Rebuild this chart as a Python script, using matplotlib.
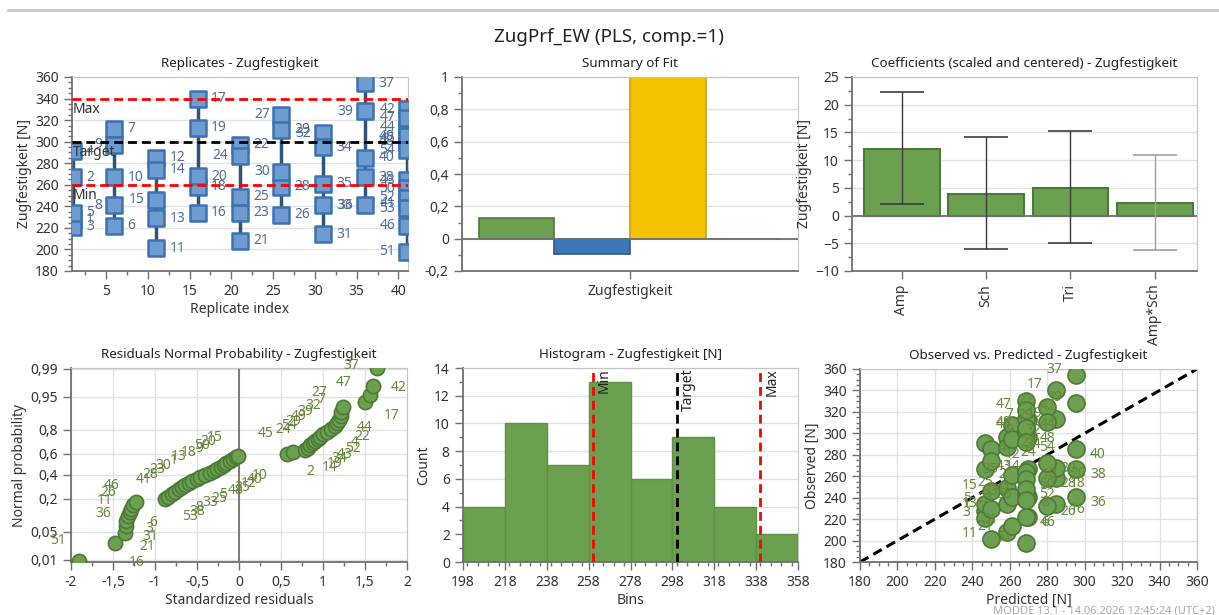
import numpy as np
import matplotlib
matplotlib.use("Agg")
import matplotlib.pyplot as plt
from matplotlib.ticker import MultipleLocator, FixedLocator, FuncFormatter
from matplotlib.lines import Line2D
from statistics import NormalDist

plt.rcParams['font.family'] = ['Noto Sans', 'DejaVu Sans']

# --- data ---
run_ids = list(range(1, 55))
run_group = [1]*5 + [6]*5 + [11]*5 + [16]*5 + [21]*5 + [26]*5 + [31]*5 + [36]*5 + [41]*14
observed = [228, 267, 221, 291, 234,
            222, 312, 241, 297, 267,
            201, 285, 229, 274, 246,
            234, 340, 258, 313, 268,
            208, 297, 234, 287, 249,
            232, 325, 258, 311, 272,
            214, 308, 241, 295, 261,
            241, 354, 267, 328, 285,
            243, 330, 264, 313, 303, 222, 322, 300, 305, 257, 198, 248, 238, 292]
group_index = [1, 6, 11, 16, 21, 26, 31, 36, 41]
group_pred = [246.5, 269.5, 250.0, 284.8, 258.4, 279.8, 261.0, 295.5, 268.4]
spec_min, spec_target, spec_max = 260, 300, 340

fit_labels = ["R2", "Q2", "Model validity", "Reproducibility"]
fit_values = [0.13, -0.095, 1.0, -0.005]

coef_names = ["Amp", "Sch", "Tri", "Amp*Sch"]
coef_values = [12.1, 3.9, 5.0, 2.2]
coef_low = [2.1, -6.0, -5.0, -6.3]
coef_high = [22.3, 14.1, 15.2, 11.0]

npp_resid = [-1.90, -1.48, -1.36, -1.35, -1.34, -1.32, -1.30, -1.28, -1.26, -1.23,
             -0.88, -0.84, -0.80, -0.76, -0.72, -0.68, -0.64, -0.60, -0.56, -0.50,
             -0.46, -0.40, -0.34, -0.30, -0.26, -0.22, -0.18, -0.15, -0.11, -0.07,
             -0.03, -0.01,
             0.575, 0.64,
             0.785, 0.82, 0.85, 0.88, 0.91, 0.94, 0.97, 1.00, 1.05, 1.10, 1.14, 1.17,
             1.19, 1.21, 1.22, 1.24,
             1.50, 1.56, 1.60, 1.64]
npp_labels = [51, 16, 36, 21, 11, 31, 26, 3, 46, 6,
              41, 53, 28, 38, 23, 8, 30, 33, 1, 25, 13, 5, 18, 48, 9, 35, 50, 12, 20, 40, 15, 10,
              45, 2,
              24, 14, 54, 19, 29, 34, 49, 43, 39, 52, 32, 4, 7, 22, 27, 44,
              47, 17, 37, 42]
prob_ticks = [0.01, 0.05, 0.2, 0.4, 0.6, 0.8, 0.95, 0.99]

hist_edges = [198, 218, 238, 258, 278, 298, 318, 338, 358]
hist_counts = [4, 10, 7, 13, 6, 9, 4, 2]

W, H = 1219, 615
fig = plt.figure(figsize=(W/100, H/100), dpi=100)


def rect(l, t, r, b):
    return [l/W, 1 - b/H, (r - l)/W, (b - t)/H]


def comma(v, pos=None):
    return f"{v:g}".replace(".", ",")


def style(ax, xgrid=False, ygrid=True):
    for s in ["top", "right"]:
        ax.spines[s].set_color("#c4c4c4")
    for s in ["left", "bottom"]:
        ax.spines[s].set_color("#707070")
        ax.spines[s].set_linewidth(1.3)
    ax.tick_params(direction="out", length=6, width=1, colors="#707070",
                   labelcolor="#333333", labelsize=10)
    ax.tick_params(which="minor", direction="out", length=3, width=1, colors="#707070")
    if ygrid:
        ax.grid(axis="y", color="#e2e2e2", lw=1)
    if xgrid:
        ax.grid(axis="x", color="#e2e2e2", lw=1)
    ax.set_axisbelow(True)


tsize = 9.7
lsize = 10
green, green_edge = "#6aa04f", "#4b7a35"
lab_green = "#66883a"
dash = (0, (3.2, 1.8))

# top line and title
fig.add_artist(Line2D([8/W, 1], [1 - 10/H, 1 - 10/H], color="#c8c8c8", lw=2))
fig.text(0.5, 1 - 37/H, "ZugPrf_EW (PLS, comp.=1)", ha="center", va="center",
         fontsize=13.5, color="#222222")

# ---- Replicates ----
ax1 = fig.add_axes(rect(72, 77, 408, 271))
style(ax1)
obs = np.array(observed)
grp = np.array(run_group)
for g in group_index:
    v = obs[grp == g]
    ax1.plot([g, g], [v.min(), v.max()], color="#2f5378", lw=2.5, zorder=2)
ax1.scatter(grp, obs, marker="s", s=125, facecolor="#6e9bd0", edgecolor="#3b73b2",
            linewidth=1.8, zorder=3)
left_side = {8, 9, 15, 24, 27, 30, 32, 36, 39}
for r, g, v in zip(run_ids, run_group, observed):
    if g == 41 or r in left_side:
        ax1.text(g - 1.4, v, str(r), ha="right", va="center", fontsize=lsize, color="#4f6f95")
    else:
        ax1.text(g + 1.6, v, str(r), ha="left", va="center", fontsize=lsize, color="#4f6f95")
for y, c, name in [(spec_max, "red", "Max"), (spec_target, "black", "Target"), (spec_min, "red", "Min")]:
    ax1.axhline(y, color=c, lw=2, ls=dash, zorder=4)
    ax1.text(1.05, y - 3, name, ha="left", va="top", fontsize=lsize, color="#333333", zorder=5)
ax1.set_xlim(0.93, 41.15)
ax1.set_ylim(180, 360)
ax1.xaxis.set_major_locator(FixedLocator([5, 10, 15, 20, 25, 30, 35, 40]))
ax1.xaxis.set_minor_locator(MultipleLocator(2.5))
ax1.yaxis.set_major_locator(MultipleLocator(20))
ax1.yaxis.set_minor_locator(MultipleLocator(5))
ax1.set_xlabel("Replicate index", fontsize=lsize, color="#333333", labelpad=2)
ax1.set_ylabel("Zugfestigkeit [N]", fontsize=lsize, color="#333333", labelpad=2)
ax1.set_title("Replicates - Zugfestigkeit", fontsize=tsize, color="#222222", pad=7)

# ---- Summary of Fit ----
ax2 = fig.add_axes(rect(462, 77, 798, 271))
style(ax2)
bw = 0.225
pos = [-1.5*bw, -0.5*bw, 0.5*bw, 1.5*bw]
fcols = [green, "#3b78b8", "#f5c400", "#5ab4ac"]
ecols = [green_edge, "#2a5a8c", "#c9a200", "#5ab4ac"]
ax2.bar(pos, fit_values, width=bw, color=fcols, edgecolor=ecols, linewidth=1.2, zorder=2)
ax2.axhline(0, color="#707070", lw=1.3, zorder=3)
ax2.set_xlim(-0.5, 0.5)
ax2.set_ylim(-0.2, 1.0)
ax2.set_xticks([0])
ax2.set_xticklabels(["Zugfestigkeit"])
ax2.yaxis.set_major_locator(MultipleLocator(0.2))
ax2.yaxis.set_minor_locator(MultipleLocator(0.1))
ax2.yaxis.set_major_formatter(FuncFormatter(comma))
ax2.set_title("Summary of Fit", fontsize=tsize, color="#222222", pad=7)

# ---- Coefficients ----
ax3 = fig.add_axes(rect(852, 77, 1197, 271))
style(ax3)
cx = np.arange(len(coef_names))
ax3.bar(cx, coef_values, width=0.9, color=green, edgecolor=green_edge, linewidth=1.5, zorder=2)
ax3.axhline(0, color="#707070", lw=1.3, zorder=3)
for i in range(len(coef_names)):
    col = "#a0a0a0" if i == 3 else "#3c3c3c"
    ax3.errorbar(cx[i], coef_values[i],
                 yerr=[[coef_values[i] - coef_low[i]], [coef_high[i] - coef_values[i]]],
                 fmt="none", ecolor=col, elinewidth=1, capsize=16, capthick=1.2, zorder=4)
ax3.set_xlim(-0.59, 3.5)
ax3.set_ylim(-10, 25)
ax3.set_xticks(cx)
ax3.set_xticklabels(coef_names, rotation=90)
ax3.yaxis.set_major_locator(MultipleLocator(5))
ax3.yaxis.set_minor_locator(MultipleLocator(2.5))
ax3.set_ylabel("Zugfestigkeit [N]", fontsize=lsize, color="#333333", labelpad=2)
ax3.set_title("Coefficients (scaled and centered) - Zugfestigkeit", fontsize=tsize,
              color="#222222", pad=7)

# ---- Residuals normal probability ----
ax4 = fig.add_axes(rect(71, 368, 407, 562))
style(ax4, xgrid=True)
nd = NormalDist()
n = len(npp_resid)
npp_z = [nd.inv_cdf((i + 0.5) / n) for i in range(n)]
ax4.axvline(0, color="#707070", lw=1.3, zorder=1)
ax4.scatter(npp_resid, npp_z, s=105, facecolor=green, edgecolor=green_edge, linewidth=1.2, zorder=3)
for i, (x, z, lab) in enumerate(zip(npp_resid, npp_z, npp_labels)):
    if i % 2 == 0:
        ax4.annotate(str(lab), (x, z), xytext=(-10, 9), textcoords="offset points",
                     ha="right", va="bottom", fontsize=lsize, color=lab_green, zorder=4)
    else:
        ax4.annotate(str(lab), (x, z), xytext=(10, -9), textcoords="offset points",
                     ha="left", va="top", fontsize=lsize, color=lab_green, zorder=4)
ax4.set_xlim(-2, 2)
ax4.set_ylim(nd.inv_cdf(0.0085), nd.inv_cdf(0.9905))
ax4.xaxis.set_major_locator(MultipleLocator(0.5))
ax4.xaxis.set_minor_locator(MultipleLocator(0.25))
ax4.xaxis.set_major_formatter(FuncFormatter(comma))
ax4.set_yticks([nd.inv_cdf(p) for p in prob_ticks])
ax4.set_yticklabels([comma(p) for p in prob_ticks])
ax4.set_xlabel("Standardized residuals", fontsize=lsize, color="#333333", labelpad=2)
ax4.set_ylabel("Normal probability", fontsize=lsize, color="#333333", labelpad=2)
ax4.set_title("Residuals Normal Probability - Zugfestigkeit", fontsize=tsize, color="#222222", pad=7)

# ---- Histogram ----
ax5 = fig.add_axes(rect(463, 368, 798, 562))
style(ax5)
ax5.bar(hist_edges[:-1], hist_counts, width=np.diff(hist_edges), align="edge",
        color=green, edgecolor="#5e9146", linewidth=1, zorder=2)
for x, c, name in [(spec_min, "red", "Min"), (spec_target, "black", "Target"), (spec_max, "red", "Max")]:
    ax5.axvline(x, color=c, lw=2, ls=dash, zorder=4)
    ax5.text(x + 2, 13.95, name, rotation=90, ha="left", va="top", fontsize=lsize,
             color="#222222", zorder=5)
ax5.set_xlim(198, 358)
ax5.set_ylim(0, 14)
ax5.set_xticks(hist_edges)
ax5.xaxis.set_minor_locator(MultipleLocator(5))
ax5.yaxis.set_major_locator(MultipleLocator(2))
ax5.yaxis.set_minor_locator(MultipleLocator(1))
ax5.set_xlabel("Bins", fontsize=lsize, color="#333333", labelpad=2)
ax5.set_ylabel("Count", fontsize=lsize, color="#333333", labelpad=2)
ax5.set_title("Histogram - Zugfestigkeit [N]", fontsize=tsize, color="#222222", pad=7)

# ---- Observed vs predicted ----
ax6 = fig.add_axes(rect(860, 369, 1197, 562))
style(ax6, xgrid=True)
pred_of = dict(zip(group_index, group_pred))
pred = [pred_of[g] for g in run_group]
ax6.plot([180, 360], [180, 360], color="black", lw=2.2, ls=dash, zorder=2)
ax6.scatter(pred, observed, s=150, facecolor=green, edgecolor=green_edge, linewidth=1.2, zorder=3)
for i, (p, o, r) in enumerate(zip(pred, observed, run_ids)):
    if i % 2 == 0:
        ax6.annotate(str(r), (p, o), xytext=(-10, 4), textcoords="offset points",
                     ha="right", va="center", fontsize=lsize, color=lab_green, zorder=4)
    else:
        ax6.annotate(str(r), (p, o), xytext=(10, -4), textcoords="offset points",
                     ha="left", va="center", fontsize=lsize, color=lab_green, zorder=4)
ax6.set_xlim(180, 360)
ax6.set_ylim(180, 360)
ax6.xaxis.set_major_locator(MultipleLocator(20))
ax6.xaxis.set_minor_locator(MultipleLocator(5))
ax6.yaxis.set_major_locator(MultipleLocator(20))
ax6.yaxis.set_minor_locator(MultipleLocator(5))
ax6.set_xlabel("Predicted [N]", fontsize=lsize, color="#333333", labelpad=2)
ax6.set_ylabel("Observed [N]", fontsize=lsize, color="#333333", labelpad=2)
ax6.set_title("Observed vs. Predicted - Zugfestigkeit", fontsize=tsize, color="#222222", pad=7)

fig.text(993/W, 1 - 611/H, "MODDE 13.1 - 14.06.2026 12:45:24 (UTC+2)", ha="left", va="center",
         fontsize=8, color="#a8a8a8")

fig.savefig("out.png", dpi=100)
